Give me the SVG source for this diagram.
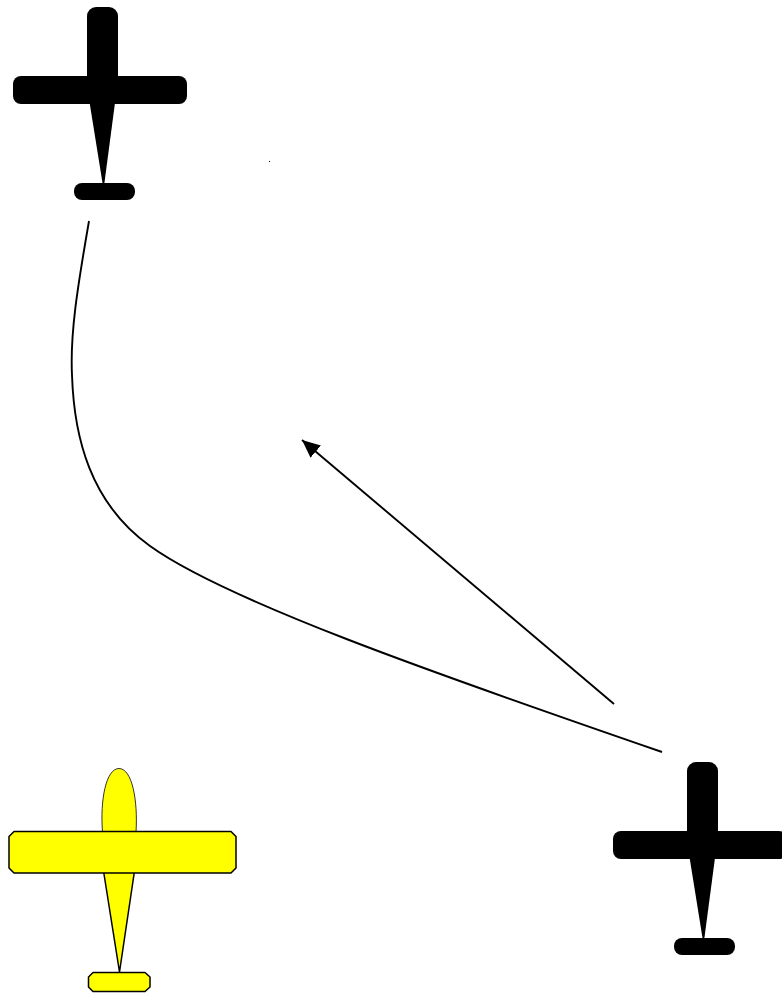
<svg xmlns="http://www.w3.org/2000/svg" width="782" height="994" viewBox="0 0 782 994">
<style>
.line{fill:none;stroke:#000;stroke-width:1.9}
.blk{fill:#000}
.yel{fill:#ff0;stroke:#000;stroke-width:1.5;stroke-linejoin:round}
.yel2{fill:#ff0;stroke:#333;stroke-width:1;stroke-linejoin:round}
</style>
<defs>
<marker id="arrow" markerUnits="userSpaceOnUse" markerWidth="20" markerHeight="18" refX="18" refY="8" orient="auto">
<path d="M0 0L18 8L0 16Z" fill="#000"/>
</marker>
<g id="blackplane">
<rect class="blk" x="87" y="7" width="31" height="90" rx="9"/>
<rect class="blk" x="13" y="76" width="174" height="28" rx="8"/>
<path class="blk" d="M89 99H115.500L104 186H103Z"/>
<rect class="blk" x="74" y="183" width="61" height="17" rx="8"/>
</g>
</defs>
<rect width="782" height="994" fill="#fff"/>
<g id="connectors">
<path class="line" d="M89 221C77 290 70 335 72 375C74 437 90 503 150 546C225 600 430 672 662 752"/>
<line class="line" x1="614" y1="704" x2="302" y2="440" marker-end="url(#arrow)"/>
</g>
<g id="plane-top-left"><use href="#blackplane"/></g>
<g id="plane-bottom-right"><use href="#blackplane" x="600" y="755"/></g>
<g id="plane-yellow">
<path class="yel2" d="M102.500 832C100 800 106 768.500 119 768.500C132 768.500 138 800 136 832Z"/>
<path class="yel" d="M103.500 871H134.500L119.500 972Z"/>
<path class="yel" d="M93 972.500H145L150 977V987L145 991.500H93L88.500 987V977Z"/>
<path class="yel" d="M14 831.500H231L236 836.500V868L231 873H14L9 868V836.500Z"/>
</g>
<rect id="speck" x="269" y="161" width="1" height="1" fill="#000"/>
</svg>
